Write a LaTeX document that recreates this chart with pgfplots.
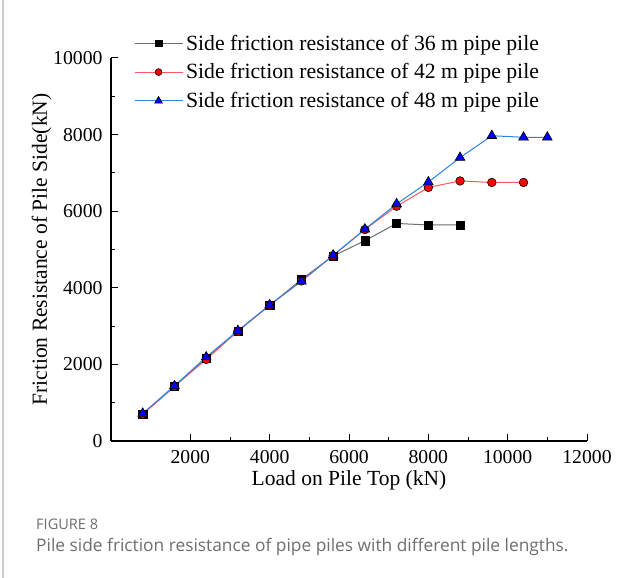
\documentclass[border=0pt]{standalone}
\usepackage{pgfplots}
\pgfplotsset{compat=1.18}
\usepackage{fontspec}
\setmainfont{Liberation Serif}
\newfontfamily\capfont{Open Sans}
\definecolor{lineblack}{HTML}{6E6E6E}
\definecolor{linered}{HTML}{FF5A5A}
\definecolor{lineblue}{HTML}{2C84E8}
\definecolor{capgray}{HTML}{6F6F6F}
\begin{document}
\begin{tikzpicture}
\useasboundingbox (0,0) rectangle (639bp,578bp);
\fill[white] (0,0) rectangle (639bp,578bp);
\draw[black!20, line width=1.2bp] (3bp,0) -- (3bp,578bp);
\begin{axis}[
  at={(111bp,137bp)}, anchor=south west,
  scale only axis, width=476bp, height=383bp,
  xmin=0, xmax=12000, ymin=0, ymax=10000,
  axis x line*=bottom, axis y line*=left,
  axis line style={line width=1.1bp},
  tick align=inside,
  xtick={2000,4000,6000,8000,10000,12000},
  ytick={0,2000,4000,6000,8000,10000},
  minor x tick num=1, minor y tick num=1,
  major tick length=7bp, minor tick length=4bp,
  tick style={line width=1bp, black},
  scaled ticks=false,
  /pgf/number format/assume math mode=true,
  /pgf/number format/.cd, 1000 sep={}, /pgfplots/.cd,
  tick label style={font=\fontsize{19.8}{22}\selectfont},
  xticklabel style={yshift=-6bp},
  yticklabel style={xshift=-5bp},
  label style={font=\fontsize{21.6}{24}\selectfont},
  xlabel={Load on Pile Top (kN)},
  ylabel={Friction Resistance of Pile Side(kN)},
  xlabel style={at={(axis description cs:0.5,-0.103)}, anchor=center},
  ylabel style={at={(axis description cs:-0.146,0.5)}, anchor=center},
  legend style={at={(axis description cs:0.048,1.066)}, anchor=north west,
    draw=none, fill=none, font=\fontsize{21.8}{24}\selectfont,
    row sep=8bp, inner sep=0pt,
    nodes={inner xsep=3bp, inner ysep=2bp}},
  legend cell align=left,
  legend image code/.code={\draw[mark repeat=2, mark phase=2, #1, every mark/.append style={scale=0.8}] plot coordinates {(0bp,0bp) (24bp,0bp) (48bp,0bp)};},
  clip=false,
]
\addplot[color=lineblack, line width=1bp, mark=square*,
  mark options={fill=black, draw=black, solid, line width=0.5bp}, mark size=4.1bp]
  coordinates {(800,700)(1600,1420)(2400,2170)(3200,2870)(4000,3540)(4800,4220)(5600,4830)(6400,5230)(7200,5680)(8000,5640)(8800,5640)};
\addlegendentry{Side friction resistance of 36 m pipe pile}
\addplot[color=linered, line width=1bp, mark=*,
  mark options={fill=red, draw=black, solid, line width=0.6bp}, mark size=4.3bp]
  coordinates {(800,700)(1600,1430)(2400,2130)(3200,2870)(4000,3550)(4800,4180)(5600,4840)(6400,5520)(7200,6130)(8000,6620)(8800,6790)(9600,6750)(10400,6750)};
\addlegendentry{Side friction resistance of 42 m pipe pile}
\addplot[color=lineblue, line width=1bp, mark=triangle*,
  mark options={fill=blue, draw=black, solid, line width=0.6bp}, mark size=5.6bp]
  coordinates {(800,720)(1600,1440)(2400,2190)(3200,2880)(4000,3550)(4800,4170)(5600,4850)(6400,5530)(7200,6190)(8000,6760)(8800,7400)(9600,7970)(10400,7930)(11000,7930)};
\addlegendentry{Side friction resistance of 48 m pipe pile}
\end{axis}
\node[anchor=base west, inner sep=0pt, text=capgray, font=\capfont\fontsize{14.6}{16}\selectfont] at (36bp,48bp) {FIGURE 8};
\node[anchor=base west, inner sep=0pt, text=capgray, font=\capfont\fontsize{17.4}{19}\selectfont] at (36bp,27bp) {Pile side friction resistance of pipe piles with different pile lengths.};
\end{tikzpicture}
\end{document}
